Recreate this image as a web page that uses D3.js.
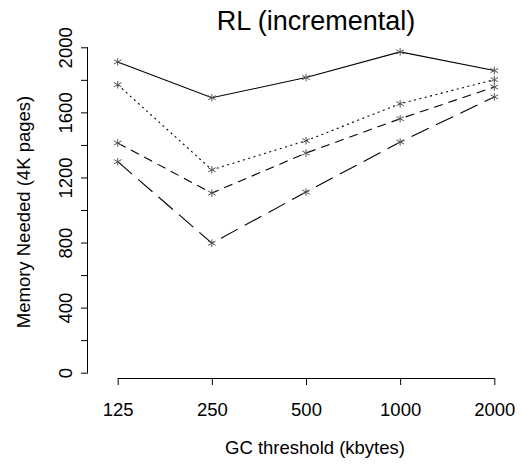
<!DOCTYPE html>
<html>
<head>
<meta charset="utf-8">
<script src="https://cdn.jsdelivr.net/npm/d3@7"></script>
<style>
  body { margin: 0; background: #fff; }
  text { font-family: "Liberation Sans", Arial, sans-serif; fill: #000; }
</style>
</head>
<body>
<svg class="chart"></svg>
<script>
// GC threshold categories and memory needed per run
let thresholds = ["125", "250", "500", "1000", "2000"];
let seriesA = [1910, 1690, 1814, 1972, 1857];
let seriesB = [1770, 1247, 1426, 1653, 1801];
let seriesC = [1412, 1104, 1350, 1561, 1756];
let seriesD = [1297, 796, 1110, 1418, 1695];
let yTicks = [0, 200, 400, 600, 800, 1000, 1200, 1400, 1600, 1800, 2000];
let yLabels = [0, 400, 800, 1200, 1600, 2000];

let width = 521, height = 466;
let svg = d3.select(".chart").attr("width", width).attr("height", height);

let x = d3.scalePoint().domain(thresholds).range([117.7, 494.3]);
let y = d3.scaleLinear().domain([0, 2000]).range([372.7, 47.3]);

let series = [
  {values: seriesA, dash: null},
  {values: seriesB, dash: "2,3.5"},
  {values: seriesC, dash: "9,6"},
  {values: seriesD, dash: "19,8"}
];

// title
svg.append("text")
  .attr("x", 316).attr("y", 30)
  .attr("text-anchor", "middle")
  .style("font-size", "27px")
  .text("RL (incremental)");

// x axis
let xAxis = svg.append("g").attr("transform", "translate(0,378)")
  .call(d3.axisBottom(x).tickSize(7));
xAxis.select(".domain").attr("d", "M" + x("125") + ",0.5H" + x("2000"));
xAxis.selectAll("text")
  .attr("y", 38).attr("dy", null)
  .style("font-size", "18.5px").attr("font-family", null);
xAxis.selectAll("line, path").attr("stroke", "#000");

// y axis
let yAxis = svg.append("g").attr("transform", "translate(88,0)")
  .call(d3.axisLeft(y).tickValues(yTicks).tickSize(7)
    .tickFormat(d => yLabels.includes(d) ? d : ""));
yAxis.select(".domain").attr("d", "M-0.5," + y(0) + "V" + y(2000));
yAxis.selectAll("text")
  .attr("x", null).attr("dy", null)
  .attr("transform", "translate(-16,0) rotate(-90)")
  .attr("text-anchor", "middle")
  .style("font-size", "18.5px").attr("font-family", null);
yAxis.selectAll("line, path").attr("stroke", "#000");

// axis titles
svg.append("text")
  .attr("x", 315).attr("y", 454)
  .attr("text-anchor", "middle")
  .style("font-size", "18.5px")
  .text("GC threshold (kbytes)");

svg.append("text")
  .attr("transform", "translate(30,212) rotate(-90)")
  .attr("text-anchor", "middle")
  .style("font-size", "18.5px")
  .text("Memory Needed (4K pages)");

let line = d3.line()
  .x((d, i) => x(thresholds[i]))
  .y(d => y(d));

for (let s of series) {
  svg.append("path")
    .datum(s.values)
    .attr("d", line)
    .attr("fill", "none")
    .attr("stroke", "#000")
    .attr("stroke-width", 1.1)
    .attr("stroke-dasharray", s.dash);

  // asterisk markers
  let r = 3.8;
  let marks = svg.append("g").selectAll("g")
    .data(s.values)
    .join("g")
    .attr("transform", (d, i) => "translate(" + x(thresholds[i]) + "," + y(d) + ")");
  [[0, -r, 0, r], [-r, -r * 0.55, r, r * 0.55], [-r, r * 0.55, r, -r * 0.55]].forEach(function(c) {
    marks.append("line")
      .attr("x1", c[0]).attr("y1", c[1]).attr("x2", c[2]).attr("y2", c[3])
      .attr("stroke", "#555").attr("stroke-width", 1);
  });
}
</script>
</body>
</html>
